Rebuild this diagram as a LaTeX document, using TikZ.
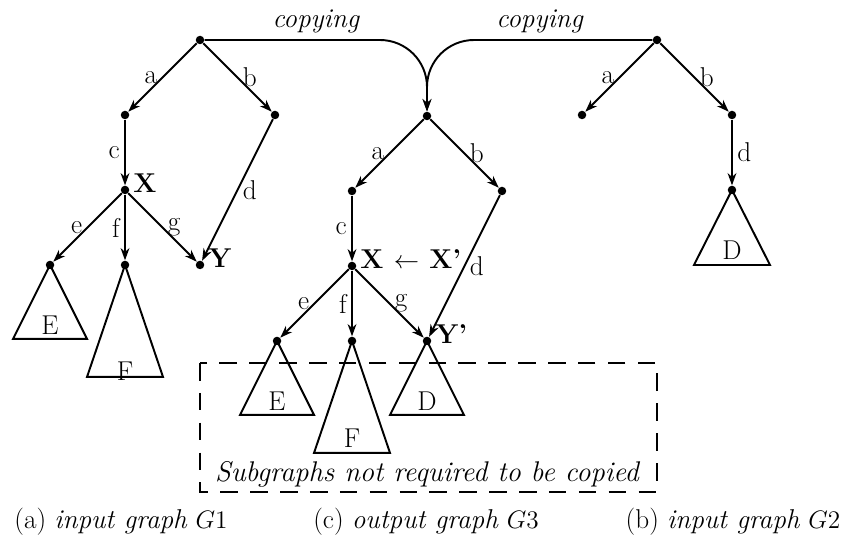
\documentclass[tikz,border=0pt]{standalone}
\usepackage{amsmath}
\usepackage{amssymb}
\usepackage{xcolor}
\usetikzlibrary{arrows.meta,positioning,calc}

\begin{document}
\begin{tikzpicture}[
    x=0.02cm, y=-0.02cm,
    node distance=1.5cm and 1.5cm,
    font=\fontsize{15.5}{18}\selectfont,
    dot/.style={circle, fill=black, inner sep=0pt, minimum size=0.17cm, on grid},
    arrow/.style={-{Stealth[length=7pt, width=5pt]}, line width=1.1pt},
    tri/.style={line width=1.1pt, line join=miter},
    lbl/.style={inner sep=2.5pt},
    tag/.style={font=\fontsize{15.5}{18}\selectfont\bfseries, inner sep=1pt},
    ital/.style={font=\fontsize{15.5}{18}\selectfont\itshape}
]
    \useasboundingbox (0,0) rectangle (848,544);

    % (a) input graph G1
    \node [dot] (r1) at (200,40) {};
    \node [dot, below left=of r1] (a1) {};
    \node [dot, below right=of r1] (b1) {};
    \node [dot, below=of a1] (x1) {};
    \node [dot, below left=of x1] (e1) {};
    \node [dot, below=of x1] (f1) {};
    \node [dot, below right=of x1] (y1) {};

    \draw [arrow] (r1) -- node [lbl, left] {a} (a1);
    \draw [arrow] (r1) -- node [lbl, right] {b} (b1);
    \draw [arrow] (a1) -- node [lbl, left] {c} (x1);
    \draw [arrow] (b1) -- node [lbl, right] {d} (y1);
    \draw [arrow] (x1) -- node [lbl, left] {e} (e1);
    \draw [arrow] (x1) -- node [lbl, left] {f} (f1);
    \draw [arrow] (x1) -- node [lbl, right] {g} (y1);
    \node [tag, right=1pt of x1, yshift=4pt] (x1tag) {X};
    \node [tag, right=1pt of y1, yshift=4pt] (y1tag) {Y};

    \draw [tri] (e1.center) -- ++(-37,74) -- ++(74,0) -- cycle;
    \draw [tri] (f1.center) -- ++(-38,112) -- ++(76,0) -- cycle;
    \node [below=1.2cm of e1.center, anchor=center] (te1) {E};
    \node [below=2.12cm of f1.center, anchor=center] (tf1) {F};

    % (c) output graph G3
    \node [dot] (r3) at (427,116) {};
    \node [dot, below left=of r3] (a3) {};
    \node [dot, below right=of r3] (b3) {};
    \node [dot, below=of a3] (x3) {};
    \node [dot, below left=of x3] (e3) {};
    \node [dot, below=of x3] (f3) {};
    \node [dot, below right=of x3] (y3) {};

    \draw [arrow] (r3) -- node [lbl, left] {a} (a3);
    \draw [arrow] (r3) -- node [lbl, right] {b} (b3);
    \draw [arrow] (a3) -- node [lbl, left] {c} (x3);
    \draw [arrow] (b3) -- node [lbl, right] {d} (y3);
    \draw [arrow] (x3) -- node [lbl, left] {e} (e3);
    \draw [arrow] (x3) -- node [lbl, left] {f} (f3);
    \draw [arrow] (x3) -- node [lbl, right] {g} (y3);
    \node [tag, right=1pt of x3, yshift=4pt] (x3tag) {X $\leftarrow$ X'};
    \node [tag, right=1pt of y3, yshift=4pt] (y3tag) {Y'};

    \draw [tri] (e3.center) -- ++(-37,74) -- ++(74,0) -- cycle;
    \draw [tri] (f3.center) -- ++(-38,112) -- ++(76,0) -- cycle;
    \draw [tri] (y3.center) -- ++(-37,74) -- ++(74,0) -- cycle;
    \node [below=1.2cm of e3.center, anchor=center] (te3) {E};
    \node [below=1.95cm of f3.center, anchor=center] (tf3) {F};
    \node [below=1.2cm of y3.center, anchor=center] (td3) {D};

    % (b) input graph G2
    \node [dot] (r2) at (657,40) {};
    \node [dot, below left=of r2] (a2) {};
    \node [dot, below right=of r2] (b2) {};
    \node [dot, below=of b2] (d2) {};

    \draw [arrow] (r2) -- node [lbl, left] {a} (a2);
    \draw [arrow] (r2) -- node [lbl, right] {b} (b2);
    \draw [arrow] (b2) -- node [lbl, right] {d} (d2);
    \draw [tri] (d2.center) -- ++(-38,75) -- ++(76,0) -- cycle;
    \node [below=1.2cm of d2.center, anchor=center] (td2) {D};

    % copying
    \draw [arrow, rounded corners=0.94cm] (r1) -- node [ital, above] {copying} (r1 -| r3) -- (r3);
    \draw [arrow, rounded corners=0.94cm] (r2) -- node [ital, above] {copying} (r2 -| r3) -- (r3);

    % not copied
    \draw [line width=1.1pt, dash pattern=on 10pt off 7pt] (200,363) rectangle (657,492);
    \node [font=\fontsize{16.2}{19}\selectfont\itshape] (note) at (427,474) {Subgraphs not required to be copied};

    % captions
    \node (capa) at (121,522) {(a) \textit{input graph} $G1$};
    \node (capc) at (426,522) {(c) \textit{output graph} $G3$};
    \node (capb) at (733,522) {(b) \textit{input graph} $G2$};
\end{tikzpicture}
\end{document}
